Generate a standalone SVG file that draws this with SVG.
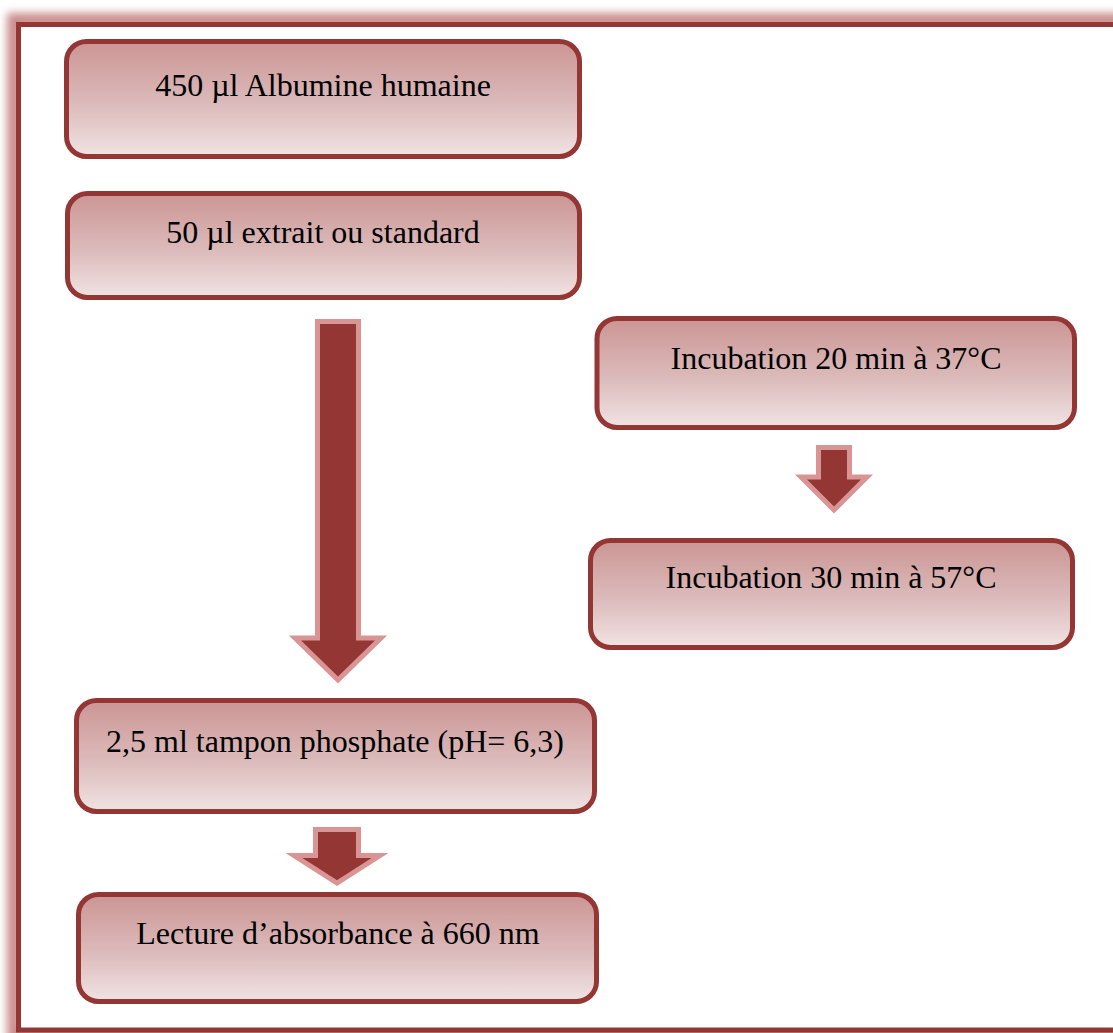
<svg xmlns="http://www.w3.org/2000/svg" width="1113" height="1033" viewBox="0 0 1113 1033">
<defs>
<linearGradient id="g" x1="0" y1="0" x2="0" y2="1">
<stop offset="0" stop-color="#cb9594"/>
<stop offset="0.55" stop-color="#dcbbbb"/>
<stop offset="1" stop-color="#f1e3e3"/>
</linearGradient>
<filter id="glow" x="-5%" y="-5%" width="110%" height="110%">
<feGaussianBlur stdDeviation="4"/>
</filter>
<style>
.box{fill:url(#g);stroke:#943634;stroke-width:5}
.t{font-family:"Liberation Serif","Times New Roman",serif;font-size:32px;fill:#000;text-anchor:middle}
.arr{fill:#943634;stroke:#d99594;stroke-width:5;stroke-linejoin:miter}
</style>
</defs>
<rect x="0" y="0" width="1113" height="1033" fill="#fff"/>
<g id="frame">
<rect x="14" y="20" width="1120" height="1015" fill="none" stroke="#c07776" stroke-width="14" filter="url(#glow)" opacity="0.85"/>
<rect x="18.5" y="24.5" width="1110" height="1005.5" fill="#fff" stroke="#943634" stroke-width="5"/>
</g>
<g id="connectors">
<polygon class="arr" points="317.5,321.5 358.5,321.5 358.5,638 381,638 338,680 295,638 317.5,638"/>
<polygon class="arr" points="818.5,447.5 849.5,447.5 849.5,477 867,477 834,510 801,477 818.5,477"/>
<polygon class="arr" points="315.5,829.5 358.5,829.5 358.5,855.5 380,855.5 337,883 294,855.5 315.5,855.5"/>
</g>
<g id="n1">
<rect class="box" x="66.5" y="41.5" width="513" height="115" rx="20"/>
<text class="t" x="323" y="96">450 µl Albumine humaine</text>
</g>
<g id="n2">
<rect class="box" x="67.5" y="193.5" width="512" height="104" rx="20"/>
<text class="t" x="323" y="243">50 µl extrait ou standard</text>
</g>
<g id="n3">
<rect class="box" x="597" y="318.5" width="477.5" height="109" rx="20"/>
<text class="t" x="836" y="369">Incubation 20 min à 37°C</text>
</g>
<g id="n4">
<rect class="box" x="590.5" y="540.5" width="482" height="107" rx="20"/>
<text class="t" x="831" y="588">Incubation 30 min à 57°C</text>
</g>
<g id="n5">
<rect class="box" x="76.5" y="700.5" width="518" height="111" rx="20"/>
<text class="t" x="335" y="752">2,5 ml tampon phosphate (pH= 6,3)</text>
</g>
<g id="n6">
<rect class="box" x="78.5" y="894.5" width="518" height="107" rx="20"/>
<text class="t" x="338" y="944">Lecture d’absorbance à 660 nm</text>
</g>
</svg>
